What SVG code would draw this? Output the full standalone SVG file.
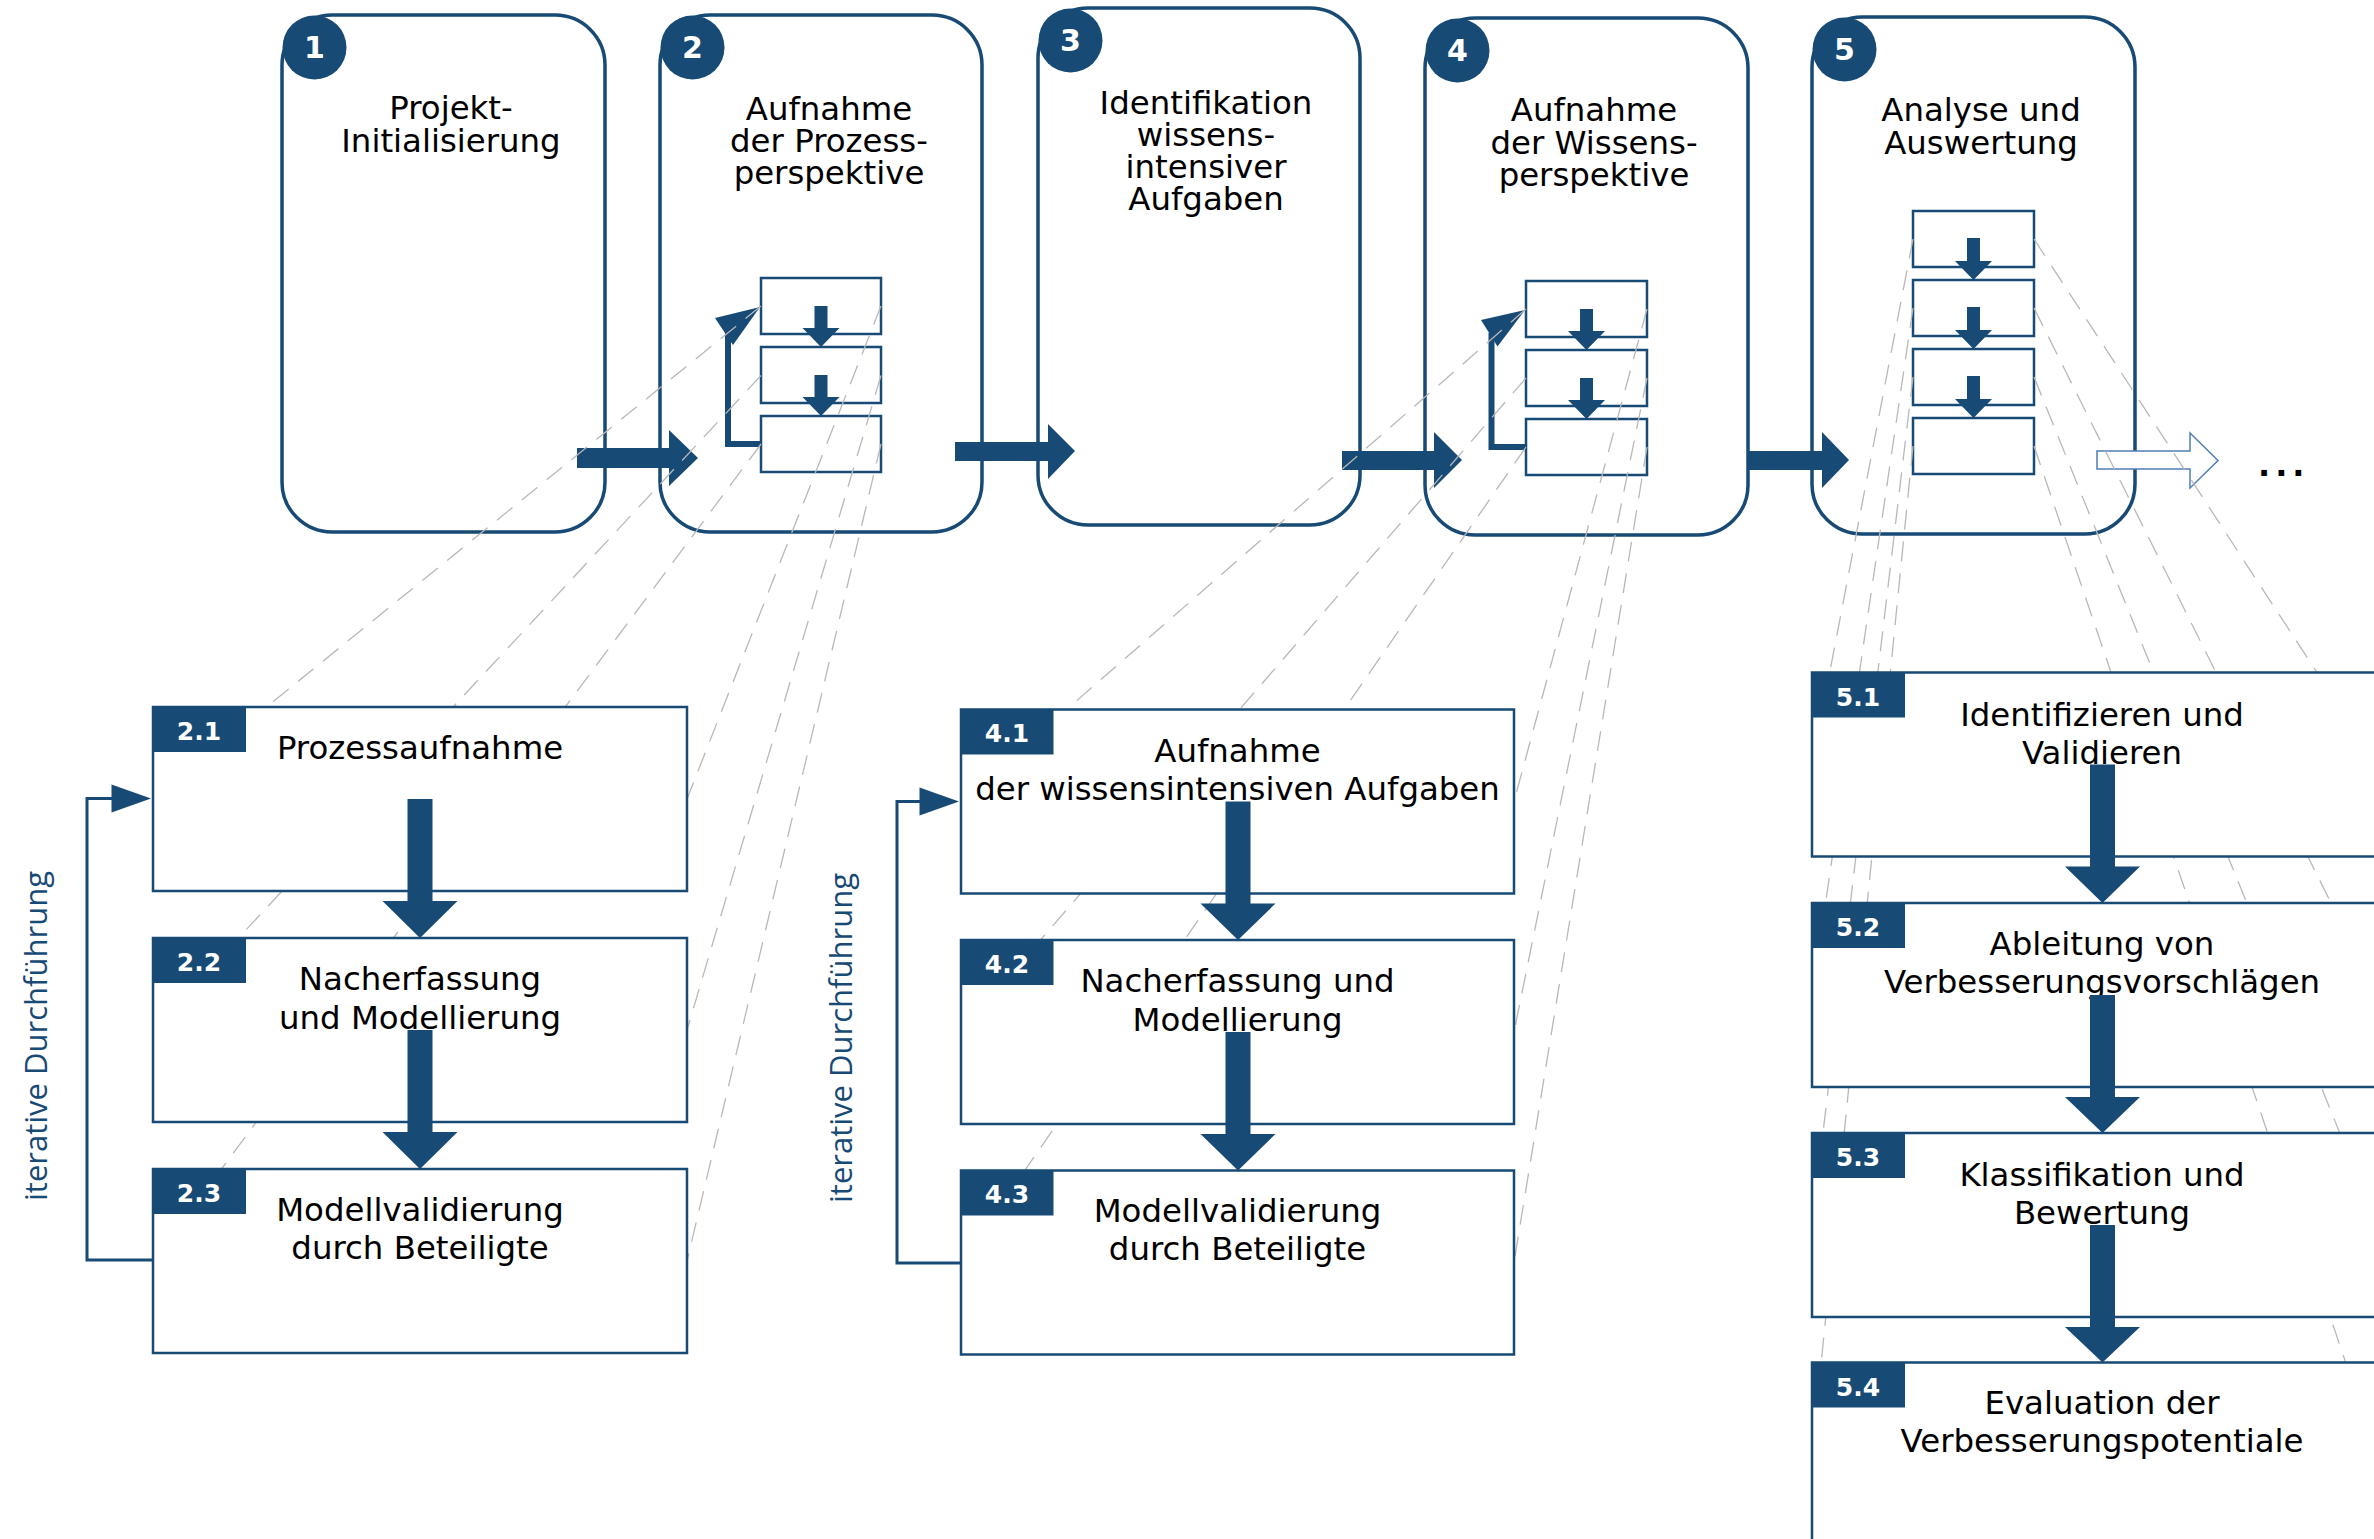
<svg xmlns="http://www.w3.org/2000/svg" width="2374" height="1539" viewBox="0 0 2374 1539">
<defs>
<style>
.node{fill:#fff;stroke:#174a74;stroke-width:3.5}
.badge{fill:#174a74}
.bnum{fill:#fff;font-family:'DejaVu Sans',Verdana,sans-serif;font-weight:bold;font-size:30px;text-anchor:middle}
.t{font-family:'DejaVu Sans',Verdana,sans-serif;font-size:32.4px;fill:#000;text-anchor:middle}
.mini{fill:#fff;stroke:#174a74;stroke-width:2.5}
.fill{fill:#174a74}
.fb{fill:none;stroke:#174a74;stroke-width:6}
.dash{stroke:#b8b8b8;stroke-width:1.3;stroke-dasharray:20 12;fill:none}
.box{fill:#fff;stroke:#174a74;stroke-width:2.5}
.tab{fill:#174a74}
.tnum{fill:#fff;font-family:'DejaVu Sans',Verdana,sans-serif;font-weight:bold;font-size:25px;text-anchor:middle}
.loop{fill:none;stroke:#174a74;stroke-width:3}
.iter{font-family:'Open Sans',sans-serif;font-size:31px;fill:#174a74;text-anchor:middle}
.out{fill:#fff;stroke:#4f7fb5;stroke-width:1.5}
</style>
</defs>

<g id="node1">
<rect class="node" x="282" y="15" width="323" height="517" rx="50"/>
<circle class="badge" cx="314.5" cy="47.5" r="32"/>
<text class="bnum" x="314.5" y="58">1</text>
<text class="t" x="451" y="119">Projekt-</text>
<text class="t" x="451" y="152">Initialisierung</text>
</g>

<g id="node2">
<rect class="node" x="660" y="15" width="322" height="517" rx="50"/>
<circle class="badge" cx="692.5" cy="47.5" r="32"/>
<text class="bnum" x="692.5" y="58">2</text>
<text class="t" x="829" y="120">Aufnahme</text>
<text class="t" x="829" y="152">der Prozess-</text>
<text class="t" x="829" y="184">perspektive</text>
<rect class="mini" x="761" y="278" width="120" height="56"/>
<rect class="mini" x="761" y="347" width="120" height="56"/>
<rect class="mini" x="761" y="416" width="120" height="56"/>
<polygon class="fill" points="814.5,306 827.5,306 827.5,328 839.5,328 821,347 802.5,328 814.5,328"/>
<polygon class="fill" points="814.5,375 827.5,375 827.5,397 839.5,397 821,416 802.5,397 814.5,397"/>
<path class="fb" d="M761,444 H728 V330"/>
<polygon class="fill" points="760,307 715,318 733,345"/>
</g>

<g id="node3">
<rect class="node" x="1038" y="8" width="322" height="517" rx="50"/>
<circle class="badge" cx="1070.5" cy="40.5" r="32"/>
<text class="bnum" x="1070.5" y="51">3</text>
<text class="t" x="1206" y="113.5">Identifikation</text>
<text class="t" x="1206" y="145.5">wissens-</text>
<text class="t" x="1206" y="177.5">intensiver</text>
<text class="t" x="1206" y="210">Aufgaben</text>
</g>

<g id="node4">
<rect class="node" x="1425" y="18" width="323" height="517" rx="50"/>
<circle class="badge" cx="1457.5" cy="50.5" r="32"/>
<text class="bnum" x="1457.5" y="61">4</text>
<text class="t" x="1594" y="121">Aufnahme</text>
<text class="t" x="1594" y="154">der Wissens-</text>
<text class="t" x="1594" y="186">perspektive</text>
<rect class="mini" x="1526" y="281" width="121" height="56"/>
<rect class="mini" x="1526" y="350" width="121" height="56"/>
<rect class="mini" x="1526" y="419" width="121" height="56"/>
<polygon class="fill" points="1580,309 1593,309 1593,331 1605,331 1586.5,350 1568,331 1580,331"/>
<polygon class="fill" points="1580,378 1593,378 1593,400 1605,400 1586.5,419 1568,400 1580,400"/>
<path class="fb" d="M1526,447 H1491.5 V333"/>
<polygon class="fill" points="1525,310 1481,320 1497.5,346.5"/>
</g>

<g id="node5">
<rect class="node" x="1812" y="17" width="323" height="517" rx="50"/>
<circle class="badge" cx="1844.5" cy="49.5" r="32"/>
<text class="bnum" x="1844.5" y="60">5</text>
<text class="t" x="1981" y="121">Analyse und</text>
<text class="t" x="1981" y="154">Auswertung</text>
<rect class="mini" x="1913" y="211" width="121" height="56"/>
<rect class="mini" x="1913" y="280" width="121" height="56"/>
<rect class="mini" x="1913" y="349" width="121" height="56"/>
<rect class="mini" x="1913" y="418" width="121" height="56"/>
<polygon class="fill" points="1967,238 1980,238 1980,261 1992,261 1973.5,280 1955,261 1967,261"/>
<polygon class="fill" points="1967,307 1980,307 1980,330 1992,330 1973.5,349 1955,330 1967,330"/>
<polygon class="fill" points="1967,376 1980,376 1980,399 1992,399 1973.5,418 1955,399 1967,399"/>
</g>

<g id="connectors">
<polygon class="fill" points="577,448 669,448 669,430 698,458 669,486 669,468 577,468"/>
<polygon class="fill" points="955,442 1048,442 1048,424 1075,451 1048,479 1048,461 955,461"/>
<polygon class="fill" points="1342,451 1434,451 1434,432 1462,460 1434,488 1434,470 1342,470"/>
<polygon class="fill" points="1749,451 1822,451 1822,432 1849,460 1822,488 1822,470 1749,470"/>
<polygon class="out" points="2097,451 2190,451 2190,433 2218,460.5 2190,488 2190,469 2097,469"/>
<g id="projection-lines">
<path class="dash" d="M761,306 L153,799 M761,375.5 L153,1030 M761,444 L153,1261"/>
<path class="dash" d="M881,306 L687,799 M881,375.5 L687,1030 M881,444 L687,1261"/>
<path class="dash" d="M1526,309 L961,801.5 M1526,378 L961,1032 M1526,447 L961,1262.5"/>
<path class="dash" d="M1647,309 L1514,801.5 M1647,378 L1514,1032 M1647,447 L1514,1262.5"/>
<path class="dash" d="M1913,239 L1812,764.5 M1913,308 L1812,995 M1913,377 L1812,1225 M1913,446 L1812,1454.5"/>
<path class="dash" d="M2034,239 L2377,764.5 M2034,308 L2377,995 M2034,377 L2377,1225 M2034,446 L2377,1454.5"/>
</g>
</g>

<text x="2258" y="476" style="font-family:'DejaVu Sans',sans-serif;font-weight:bold;font-size:32px;letter-spacing:5px">...</text>

<g id="box2-1">
<rect class="box" x="153" y="707" width="534" height="184"/>
<rect class="tab" x="153" y="707" width="93" height="45"/>
<text class="tnum" x="199" y="739.5">2.1</text>
<text class="t" x="420" y="759">Prozessaufnahme</text>
</g>
<g id="box2-2">
<rect class="box" x="153" y="938" width="534" height="184"/>
<rect class="tab" x="153" y="938" width="93" height="45"/>
<text class="tnum" x="199" y="970.5">2.2</text>
<text class="t" x="420" y="990">Nacherfassung</text>
<text class="t" x="420" y="1029">und Modellierung</text>
</g>
<g id="box2-3">
<rect class="box" x="153" y="1169" width="534" height="184"/>
<rect class="tab" x="153" y="1169" width="93" height="45"/>
<text class="tnum" x="199" y="1201.5">2.3</text>
<text class="t" x="420" y="1221">Modellvalidierung</text>
<text class="t" x="420" y="1259">durch Beteiligte</text>
</g>

<g id="box4-1">
<rect class="box" x="961" y="709.5" width="553" height="184"/>
<rect class="tab" x="961" y="709.5" width="92.5" height="45"/>
<text class="tnum" x="1007" y="742">4.1</text>
<text class="t" x="1237.5" y="761.5">Aufnahme</text>
<text class="t" x="1237.5" y="800">der wissensintensiven Aufgaben</text>
</g>
<g id="box4-2">
<rect class="box" x="961" y="940" width="553" height="184"/>
<rect class="tab" x="961" y="940" width="92.5" height="45"/>
<text class="tnum" x="1007" y="972.5">4.2</text>
<text class="t" x="1237.5" y="991.5">Nacherfassung und</text>
<text class="t" x="1237.5" y="1030.5">Modellierung</text>
</g>
<g id="box4-3">
<rect class="box" x="961" y="1170.5" width="553" height="184"/>
<rect class="tab" x="961" y="1170.5" width="92.5" height="45"/>
<text class="tnum" x="1007" y="1203">4.3</text>
<text class="t" x="1237.5" y="1222">Modellvalidierung</text>
<text class="t" x="1237.5" y="1260">durch Beteiligte</text>
</g>

<g id="box5-1">
<rect class="box" x="1812" y="672.5" width="565" height="184"/>
<rect class="tab" x="1812" y="672.5" width="93" height="45"/>
<text class="tnum" x="1858" y="705.5">5.1</text>
<text class="t" x="2102" y="726">Identifizieren und</text>
<text class="t" x="2102" y="763.5">Validieren</text>
</g>
<g id="box5-2">
<rect class="box" x="1812" y="903" width="565" height="184"/>
<rect class="tab" x="1812" y="903" width="93" height="45"/>
<text class="tnum" x="1858" y="936">5.2</text>
<text class="t" x="2102" y="955">Ableitung von</text>
<text class="t" x="2102" y="993">Verbesserungsvorschlägen</text>
</g>
<g id="box5-3">
<rect class="box" x="1812" y="1133" width="565" height="184"/>
<rect class="tab" x="1812" y="1133" width="93" height="45"/>
<text class="tnum" x="1858" y="1166">5.3</text>
<text class="t" x="2102" y="1185.5">Klassifikation und</text>
<text class="t" x="2102" y="1224">Bewertung</text>
</g>
<g id="box5-4">
<rect class="box" x="1812" y="1362.5" width="565" height="184"/>
<rect class="tab" x="1812" y="1362.5" width="93" height="45"/>
<text class="tnum" x="1858" y="1395.5">5.4</text>
<text class="t" x="2102" y="1414">Evaluation der</text>
<text class="t" x="2102" y="1452">Verbesserungspotentiale</text>
</g>

<g id="lower-connectors">
<polygon class="fill" points="407.5,799 432.5,799 432.5,901 457.5,901 420,938 382.5,901 407.5,901"/>
<polygon class="fill" points="407.5,1030 432.5,1030 432.5,1132 457.5,1132 420,1169 382.5,1132 407.5,1132"/>
<polygon class="fill" points="1225.5,801.5 1250.5,801.5 1250.5,903.5 1275.5,903.5 1238,940 1200.5,903.5 1225.5,903.5"/>
<polygon class="fill" points="1225.5,1032 1250.5,1032 1250.5,1134 1275.5,1134 1238,1170.5 1200.5,1134 1225.5,1134"/>
<polygon class="fill" points="2090,764.5 2115,764.5 2115,866.5 2140,866.5 2102.5,903 2065,866.5 2090,866.5"/>
<polygon class="fill" points="2090,995 2115,995 2115,1097 2140,1097 2102.5,1133 2065,1097 2090,1097"/>
<polygon class="fill" points="2090,1225 2115,1225 2115,1327 2140,1327 2102.5,1362.5 2065,1327 2090,1327"/>
<path class="loop" d="M153,1260 H87 V798.5 H113"/>
<polygon class="fill" points="111.5,784.5 151,798.5 111.5,812.5"/>
<path class="loop" d="M961,1263 H897 V801.5 H921"/>
<polygon class="fill" points="919.5,787.5 959,801.5 919.5,815.5"/>
</g>

<text class="iter" transform="translate(47,1036) rotate(-90)">iterative Durchführung</text>
<text class="iter" transform="translate(852,1038) rotate(-90)">iterative Durchführung</text>
</svg>
